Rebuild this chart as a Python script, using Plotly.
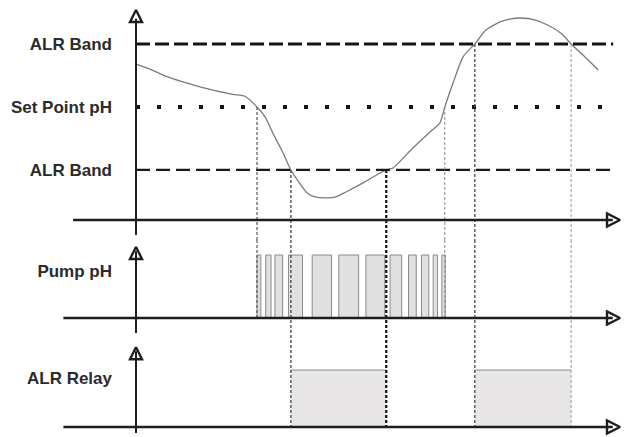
import plotly.graph_objects as go

# ---------------- data ----------------
SET_POINT = 7.0
ALR_HIGH = 7.5
ALR_LOW = 6.5
band_levels = [ALR_LOW, SET_POINT, ALR_HIGH]
band_labels = ["ALR Band", "Set Point pH", "ALR Band"]

# pH curve (time, pH)
curve_t = [0, 2.9, 6.4, 13.2, 20.0, 22.5, 25.0, 26.7, 28.3, 30.2, 32.0, 33.9, 35.3,
           37.0, 39.0, 41.3, 43.4, 46.9, 50.4, 51.7, 53.1, 57.2, 60.7, 62.8, 63.8,
           65.5, 67.6, 70.0, 72.3, 75.2, 77.3, 79.3, 82.6, 86.2, 88.0, 89.9, 93.0, 95.5]
curve_ph = [7.34, 7.30, 7.24, 7.16, 7.10, 7.085, 7.0, 6.92, 6.79, 6.65, 6.5, 6.39, 6.32,
            6.286, 6.278, 6.286, 6.325, 6.397, 6.476, 6.5, 6.516, 6.675, 6.80, 6.873, 7.0,
            7.19, 7.40, 7.5, 7.61, 7.675, 7.698, 7.706, 7.69, 7.627, 7.579, 7.5, 7.389, 7.294]

# pump pulses (start, end)
pulse_start = [25.0, 26.8, 28.7, 31.5, 36.4, 41.9, 47.5, 52.5, 56.3, 59.0, 61.4, 63.2]
pulse_end = [25.8, 27.9, 30.3, 34.4, 40.4, 46.0, 51.4, 54.9, 57.9, 60.5, 62.3, 63.9]

# ALR relay on intervals
relay_start = [32.0, 70.0]
relay_end = [51.7, 89.9]

# events (time, pH level, lower panel reached)
event_t = [25.0, 32.0, 51.7, 63.8, 70.0, 89.9]
event_level = [SET_POINT, ALR_LOW, ALR_LOW, SET_POINT, ALR_HIGH, ALR_HIGH]
event_panel = ["pump", "relay", "relay", "pump", "relay", "relay"]

# ---------------- layout constants ----------------
W, H = 626, 437
X_RANGE = [-28.1, 101.24]
Y1_RANGE = [5.944, 7.849]
Y2_RANGE = [-0.349, 1.238]
Y3_RANGE = [-0.175, 1.526]
D1 = [1 - 240 / H, 1.0]
D2 = [1 - 340 / H, 1 - 240 / H]
D3 = [0.0, 1 - 340 / H]
AX_POS = 136 / W

TXT = "#2b2b2b"
AXC = "#1e1e1e"
FONT = dict(family="Liberation Sans, Arial, sans-serif", size=17, color=TXT)

fig = go.Figure()

# pH curve
fig.add_trace(go.Scatter(x=curve_t, y=curve_ph, mode="lines", yaxis="y",
                         line=dict(color="#7a7a7a", width=1.3, shape="spline", smoothing=0.6),
                         hoverinfo="skip"))

# pump pulses
fig.add_trace(go.Bar(x=[(s + e) / 2 for s, e in zip(pulse_start, pulse_end)],
                     y=[1] * len(pulse_start), base=0,
                     width=[e - s for s, e in zip(pulse_start, pulse_end)],
                     yaxis="y2", marker=dict(color="#e0e0e0", line=dict(color="#8a8a8a", width=1)),
                     hoverinfo="skip"))

# relay
fig.add_trace(go.Bar(x=[(s + e) / 2 for s, e in zip(relay_start, relay_end)],
                     y=[1] * len(relay_start), base=0,
                     width=[e - s for s, e in zip(relay_start, relay_end)],
                     yaxis="y3", marker=dict(color="#e7e5e5", line=dict(width=0)),
                     hoverinfo="skip"))
top_x, top_y = [], []
for s, e in zip(relay_start, relay_end):
    top_x += [s, e, None]
    top_y += [1, 1, None]
fig.add_trace(go.Scatter(x=top_x, y=top_y, mode="lines", yaxis="y3",
                         line=dict(color="#8c8c8c", width=1), hoverinfo="skip"))

shapes = []

def hline(y, yref, x0, x1, color, width, dash="solid"):
    shapes.append(dict(type="line", xref="x", yref=yref, x0=x0, x1=x1, y0=y, y1=y,
                       line=dict(color=color, width=width, dash=dash)))

def vline(x, yref, y0, y1, color, width, dash="solid"):
    shapes.append(dict(type="line", xref="x", yref=yref, x0=x, x1=x, y0=y0, y1=y1,
                       line=dict(color=color, width=width, dash=dash)))

# band / set point lines
hline(ALR_HIGH, "y", 0, 98.6, "#151515", 3, "14px,5px")
hline(SET_POINT, "y", 0, 99.2, "#151515", 4, "4px,17px")
hline(ALR_LOW, "y", 0, 98.6, "#1a1a1a", 2.2, "14px,6px")

# drop lines
drop_styles = [("#555555", 1.2), ("#444444", 1.3), ("#1a1a1a", 2.3),
               ("#8a8a8a", 1.0), ("#555555", 1.4), ("#9a9a9a", 1.0)]
for t, lvl, panel, (c, w) in zip(event_t, event_level, event_panel, drop_styles):
    d = "3px,2px"
    vline(t, "y", lvl, Y1_RANGE[0], c, w, d)
    if panel == "pump":
        vline(t, "y2", Y2_RANGE[1], 0, c, w, d)
    else:
        vline(t, "y2 domain", 1, 0, c, w, d)
        vline(t, "y3", Y3_RANGE[1], 0, c, w, d)

# axes (drawn)
PH_BASE = 6.103
T_END = 100
hline(PH_BASE, "y", -13, T_END - 1.5, AXC, 2.5)
hline(0, "y2", -15, T_END - 1.5, AXC, 2.5)
hline(0, "y3", -15, T_END - 1.5, AXC, 2.5)
vline(0, "y", 5.984, 7.70, AXC, 2)
vline(0, "y2", -0.238, 1.06, AXC, 2)
vline(0, "y3", -0.105, 1.33, AXC, 2)

fig.update_layout(shapes=shapes)

# arrow heads
for yax, ytip in [("y", 7.77), ("y2", 1.127), ("y3", 1.40)]:
    fig.add_trace(go.Scatter(x=[0], y=[ytip], yaxis=yax, mode="markers",
                             marker=dict(symbol="arrow-up-open", size=12, color=AXC,
                                         line=dict(color=AXC, width=2.4)),
                             hoverinfo="skip"))
for yax, yb in [("y", PH_BASE), ("y2", 0), ("y3", 0)]:
    fig.add_trace(go.Scatter(x=[T_END], y=[yb], yaxis=yax, mode="markers",
                             marker=dict(symbol="arrow-right-open", size=13, color=AXC,
                                         line=dict(color=AXC, width=2.4)),
                             hoverinfo="skip"))

common_y = dict(showgrid=False, zeroline=False, showline=False, ticks="",
                ticklabelstandoff=24, anchor="free", position=AX_POS,
                tickfont=FONT, fixedrange=True)

fig.update_layout(
    width=W, height=H, autosize=False,
    margin=dict(l=0, r=0, t=0, b=0),
    paper_bgcolor="white", plot_bgcolor="white",
    showlegend=False, bargap=0,
    xaxis=dict(range=X_RANGE, visible=False, fixedrange=True),
    yaxis=dict(domain=D1, range=Y1_RANGE, tickvals=band_levels,
               ticktext=[f"<b>{s}</b>" for s in band_labels], **common_y),
    yaxis2=dict(domain=D2, range=Y2_RANGE, tickvals=[0.75],
                ticktext=["<b>Pump pH</b>"], **common_y),
    yaxis3=dict(domain=D3, range=Y3_RANGE, tickvals=[0.86],
                ticktext=["<b>ALR Relay</b>"], **common_y),
)

fig.write_html("out.html", config={"staticPlot": True},
               post_script="document.body.style.margin='0';document.body.style.overflow='hidden';")
